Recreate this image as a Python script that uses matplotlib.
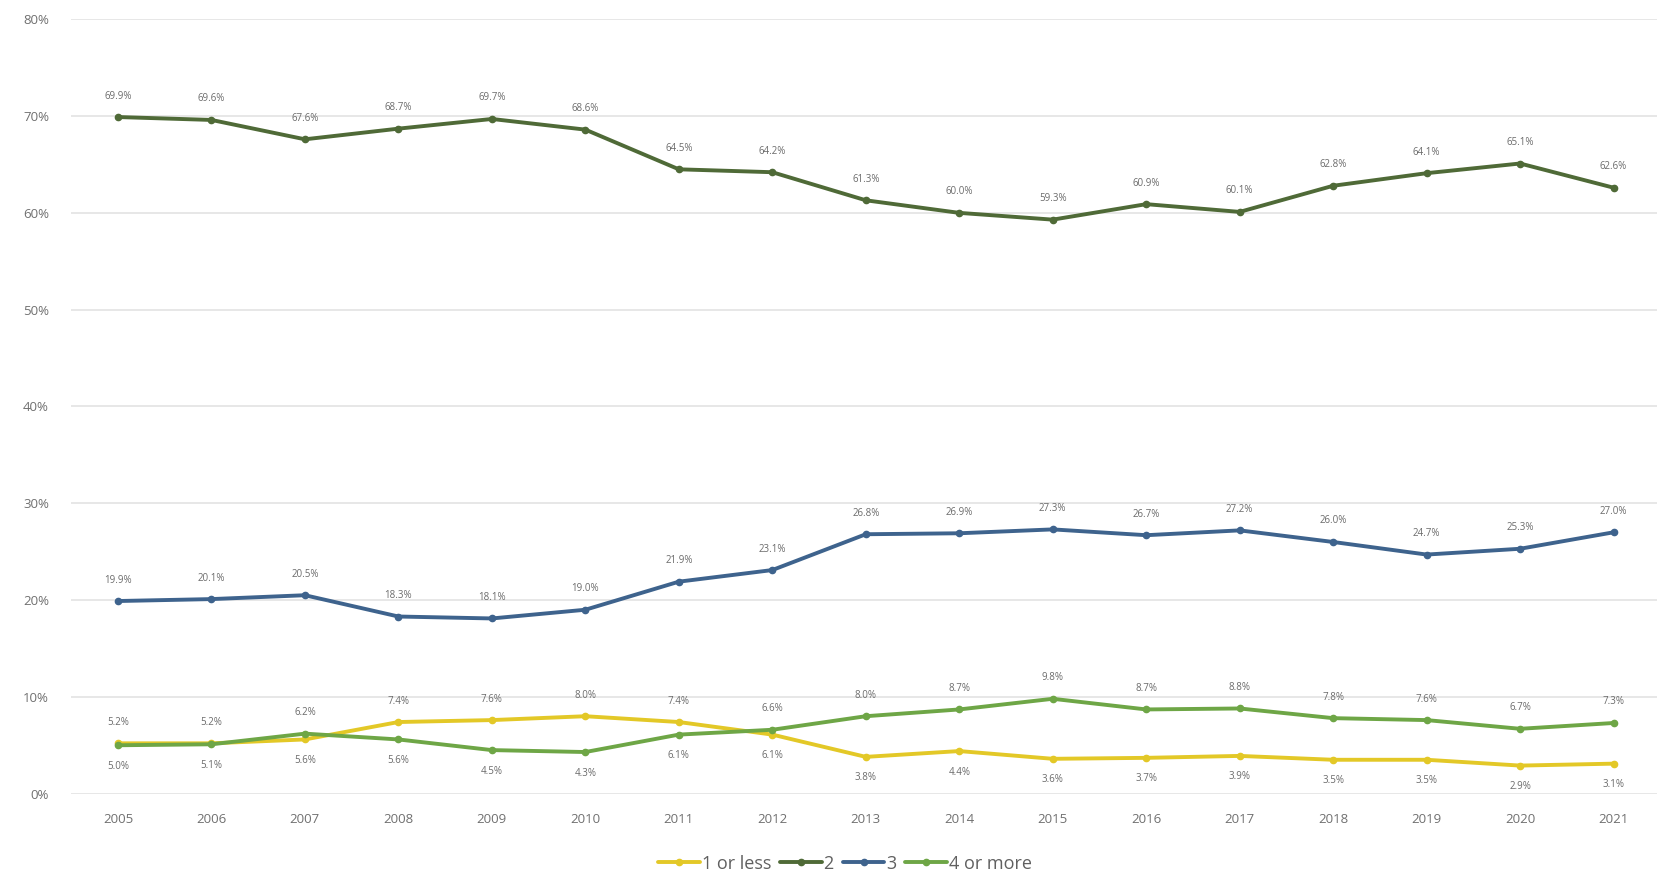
import matplotlib.pyplot as plt
import numpy as np

plt.rcParams['font.family'] = ['Open Sans', 'DejaVu Sans']

years = [2005, 2006, 2007, 2008, 2009, 2010, 2011, 2012, 2013,
         2014, 2015, 2016, 2017, 2018, 2019, 2020, 2021]

one_or_less = [5.2, 5.2, 5.6, 7.4, 7.6, 8.0, 7.4, 6.1, 3.8,
               4.4, 3.6, 3.7, 3.9, 3.5, 3.5, 2.9, 3.1]
two = [69.9, 69.6, 67.6, 68.7, 69.7, 68.6, 64.5, 64.2, 61.3,
       60.0, 59.3, 60.9, 60.1, 62.8, 64.1, 65.1, 62.6]
three = [19.9, 20.1, 20.5, 18.3, 18.1, 19.0, 21.9, 23.1, 26.8,
         26.9, 27.3, 26.7, 27.2, 26.0, 24.7, 25.3, 27.0]
four_or_more = [5.0, 5.1, 6.2, 5.6, 4.5, 4.3, 6.1, 6.6, 8.0,
                8.7, 9.8, 8.7, 8.8, 7.8, 7.6, 6.7, 7.3]

series_names = ['1 or less', '2', '3', '4 or more']
colors = ['#E3C827', '#4F6A37', '#3E638D', '#6EA646']

# label side per point: 1 = above, -1 = below
sides_one = [1, 1, -1, 1, 1, 1, 1, -1, -1, -1, -1, -1, -1, -1, -1, -1, -1]
sides_four = [-1, -1, 1, -1, -1, -1, -1, 1, 1, 1, 1, 1, 1, 1, 1, 1, 1]
sides_top = [1] * len(years)

fig = plt.figure(figsize=(16.57, 8.76), dpi=100)
ax = fig.add_axes([0.043, 0.094, 0.959, 0.884])

x = np.arange(len(years))
all_series = [one_or_less, two, three, four_or_more]
all_sides = [sides_one, sides_top, sides_top, sides_four]

for vals, col, name, sides in zip(all_series, colors, series_names, all_sides):
    ax.plot(x, vals, color=col, lw=2.8, marker='o', ms=4.5, label=name,
            solid_capstyle='round')
    for xi, v, s in zip(x, vals, sides):
        ax.annotate(f'{v:.1f}%', (xi, v), xytext=(0, 21 * s),
                    textcoords='offset pixels',
                    ha='center', va='center', fontsize=7, color='#6b6b6b')

ax.set_xlim(-0.5, len(years) - 0.5)
ax.set_ylim(0, 80)
ax.set_yticks(np.arange(0, 81, 10))
ax.set_yticklabels([f'{t}%' for t in range(0, 81, 10)])
ax.set_xticks(x)
ax.set_xticklabels([str(y) for y in years])
ax.tick_params(length=0, labelsize=9.5, colors='#707070')
ax.tick_params(axis='x', pad=14)
ax.tick_params(axis='y', pad=16)
ax.grid(axis='y', color='#E3E3E3', lw=1.2)
ax.set_axisbelow(True)
for sp in ax.spines.values():
    sp.set_visible(False)

fig.legend(loc='center', bbox_to_anchor=(0.51, 0.014), ncol=4, frameon=False,
           fontsize=13, handlelength=2.3, columnspacing=0.5, handletextpad=0.1,
           labelcolor='#606060')

fig.savefig('out.png', dpi=100)
